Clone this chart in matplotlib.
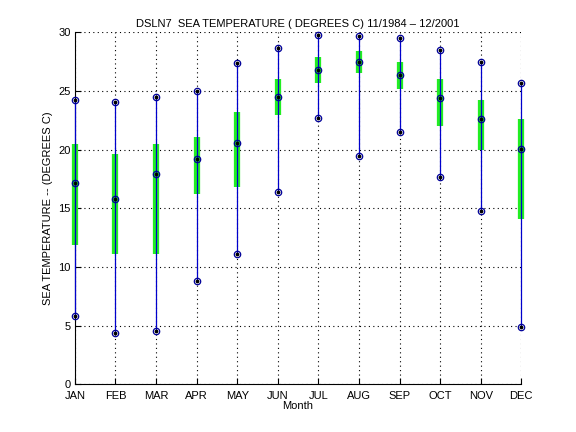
import matplotlib
matplotlib.use('Agg')
import matplotlib.pyplot as plt
import numpy as np

# monthly sea temperature stats (deg C)
months = ['JAN', 'FEB', 'MAR', 'APR', 'MAY', 'JUN',
          'JUL', 'AUG', 'SEP', 'OCT', 'NOV', 'DEC']
t_max = [24.2, 24.1, 24.5, 25.0, 27.4, 28.7, 29.8, 29.7, 29.5, 28.5, 27.5, 25.7]
t_mean = [17.2, 15.8, 17.9, 19.2, 20.6, 24.5, 26.8, 27.5, 26.4, 24.4, 22.6, 20.1]
t_min = [5.8, 4.4, 4.55, 8.8, 11.1, 16.4, 22.7, 19.5, 21.5, 17.7, 14.8, 4.9]
band_hi = [20.5, 19.6, 20.45, 21.1, 23.2, 26.0, 27.9, 28.4, 27.5, 26.0, 24.2, 22.6]
band_lo = [11.9, 11.1, 11.1, 16.2, 16.8, 23.0, 25.7, 26.5, 25.2, 22.0, 20.0, 14.1]

plt.rcParams['font.family'] = ['Liberation Sans', 'DejaVu Sans']

fig = plt.figure(figsize=(5.76, 4.32), dpi=100)
ax = fig.add_axes([0.13, 0.11, 0.775, 0.815])

x = np.arange(1, len(months) + 1)

# std band (green), full range (blue), markers
ax.vlines(x, band_lo, band_hi, colors='#22ee22', linewidth=4.5, zorder=2, clip_on=False)
ax.vlines(x, t_min, t_max, colors='#0000cc', linewidth=0.9, zorder=3, clip_on=False)
for vals in (t_max, t_mean, t_min):
    ax.plot(x, vals, linestyle='none', marker='o', markersize=4.6,
            markerfacecolor='none', markeredgecolor='#000099',
            markeredgewidth=0.9, zorder=4, clip_on=False)
    ax.plot(x, vals, linestyle='none', marker='.', markersize=3.5,
            color='black', zorder=5, clip_on=False)

ax.set_xlim(1, 12)
ax.set_ylim(0, 30)
ax.set_xticks(x)
ax.set_xticklabels(months)
ax.set_yticks(np.arange(0, 31, 5))
ax.tick_params(direction='in', length=4, labelsize=8)
ax.tick_params(axis='x', pad=4.5)
ax.tick_params(axis='y', pad=3)
ax.grid(True, color='black', linestyle=(0, (1, 3)), linewidth=0.8)
ax.set_axisbelow(True)
for side in ('top', 'right'):
    ax.spines[side].set_visible(False)

ax.set_title('DSLN7  SEA TEMPERATURE ( DEGREES C) 11/1984 \u2013 12/2001', fontsize=8, pad=4)
ax.set_xlabel('Month', fontsize=8, labelpad=0)
ax.set_ylabel('SEA TEMPERATURE -- (DEGREES C)', fontsize=8, labelpad=4)

fig.savefig('out.png', dpi=100)
